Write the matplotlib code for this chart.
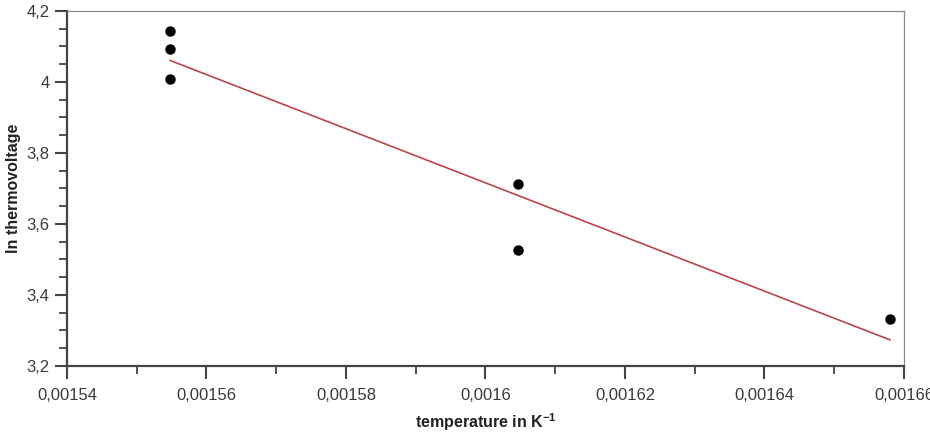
import matplotlib
matplotlib.use("Agg")
import matplotlib.pyplot as plt
import numpy as np
from matplotlib.ticker import MultipleLocator, FuncFormatter

# inverse temperature (1/K) and ln of thermovoltage
inv_temp = [0.0015548, 0.0015548, 0.0015548, 0.0016047, 0.0016047, 0.0016580]
ln_volt = [4.142, 4.093, 4.008, 3.713, 3.525, 3.332]

plt.rcParams["font.family"] = ["Liberation Sans", "DejaVu Sans"]
plt.rcParams["mathtext.fontset"] = "custom"
plt.rcParams["mathtext.bf"] = "Liberation Sans:bold"
plt.rcParams["mathtext.rm"] = "Liberation Sans:bold"
plt.rcParams["mathtext.default"] = "bf"

fig = plt.figure(figsize=(9.3, 4.32), dpi=100)
ax = fig.add_axes([0.072, 0.153, 0.900, 0.822])

x = np.array(inv_temp)
y = np.array(ln_volt)
slope, icpt = np.polyfit(x, y, 1)
xl = np.array([x.min(), x.max()])
ax.plot(xl, slope * xl + icpt, color="#b8474c", lw=1.2, zorder=2)
ax.plot(x, y, "o", color="black", ms=6.5, zorder=3)

ax.set_xlim(0.00154, 0.00166)
ax.set_ylim(3.2, 4.2)


def comma(v, pos):
    s = f"{v:.5f}".rstrip("0").rstrip(".")
    return s.replace(".", ",")


ax.xaxis.set_major_locator(MultipleLocator(0.00002))
ax.xaxis.set_minor_locator(MultipleLocator(0.00001))
ax.yaxis.set_major_locator(MultipleLocator(0.2))
ax.yaxis.set_minor_locator(MultipleLocator(0.05))
ax.xaxis.set_major_formatter(FuncFormatter(comma))
ax.yaxis.set_major_formatter(FuncFormatter(comma))

ax.tick_params(which="major", direction="out", length=9, width=1.5,
               color="#444444", labelsize=12, labelcolor="#3a3a3a")
ax.tick_params(which="minor", direction="out", length=6, width=1.3,
               color="#444444")
ax.tick_params(axis="x", which="major", pad=7)
ax.tick_params(axis="y", which="major", pad=3.5)

for s in ["left", "bottom"]:
    ax.spines[s].set_linewidth(1.6)
    ax.spines[s].set_color("#444444")
for s in ["top", "right"]:
    ax.spines[s].set_linewidth(0.9)
    ax.spines[s].set_color("#888888")

ax.set_xlabel(r"temperature in K$^{-1}$", fontsize=11.5, fontweight="bold",
              color="#222222", labelpad=6)
ax.set_ylabel("ln thermovoltage", fontsize=11.5, fontweight="bold",
              color="#222222", labelpad=4)

fig.savefig("out.png", dpi=100)
